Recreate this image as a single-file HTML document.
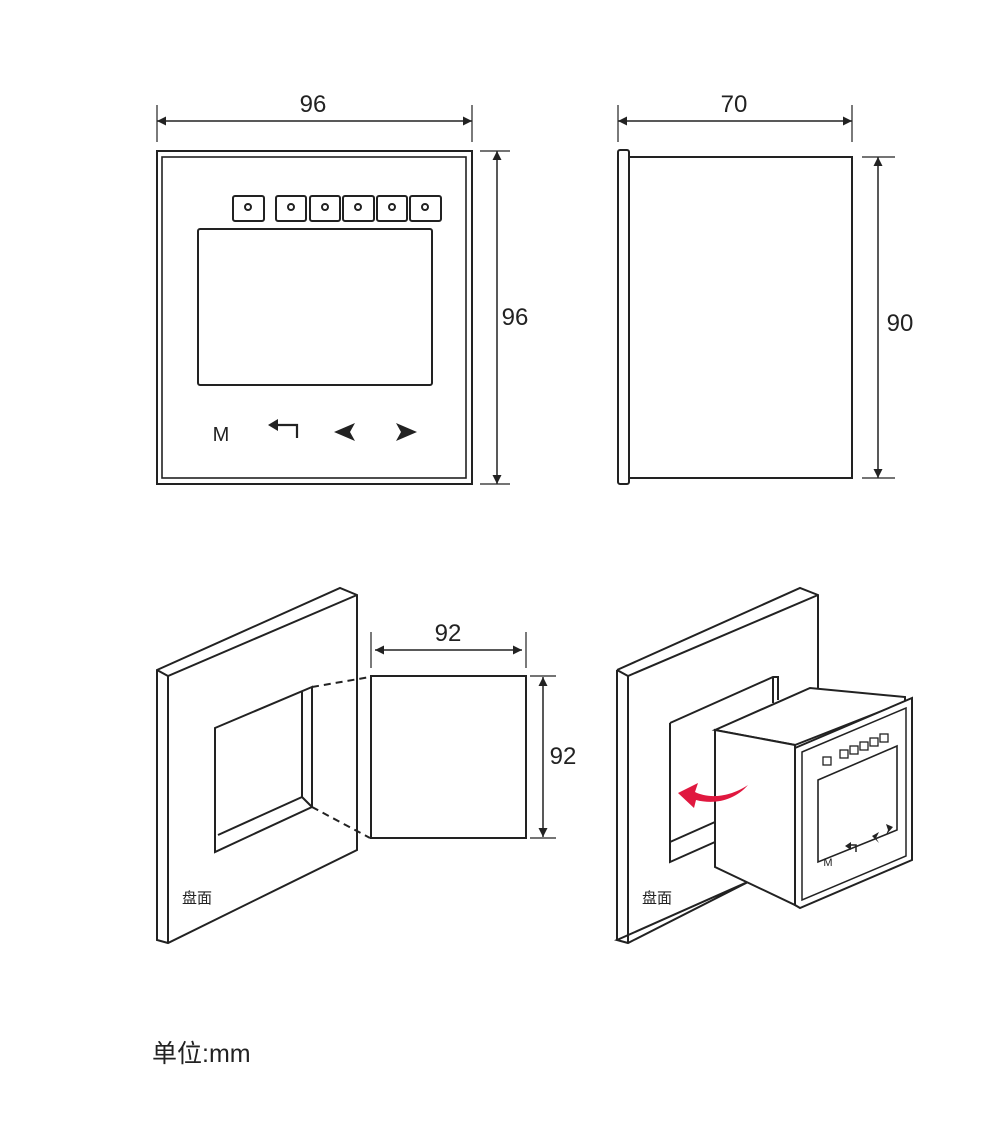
<!DOCTYPE html>
<html><head><meta charset="utf-8"><style>
html,body{margin:0;padding:0;background:#fff;}
svg{display:block;}
text{font-family:"Liberation Sans","Noto Sans CJK SC",sans-serif;fill:#222;}
</style></head><body>
<svg width="1000" height="1127" viewBox="0 0 1000 1127" xmlns="http://www.w3.org/2000/svg">
<defs>
<marker id="a" viewBox="0 0 10 10" refX="10" refY="5" markerWidth="9" markerHeight="9" orient="auto-start-reverse" markerUnits="userSpaceOnUse"><path d="M0,0 L10,5 L0,10 Z" fill="#222"/></marker>
</defs>
<g stroke="#222" stroke-width="2" fill="none">
<!-- front view -->
<rect x="157" y="151" width="315" height="333"/>
<rect x="162" y="157" width="304" height="321" stroke-width="1.6"/>
<rect x="233" y="196" width="31" height="25" rx="2"/>
<rect x="276" y="196" width="30" height="25" rx="2"/>
<rect x="310" y="196" width="30" height="25" rx="2"/>
<rect x="343" y="196" width="31" height="25" rx="2"/>
<rect x="377" y="196" width="30" height="25" rx="2"/>
<rect x="410" y="196" width="31" height="25" rx="2"/>
<circle cx="248" cy="207" r="3"/><circle cx="291" cy="207" r="3"/><circle cx="325" cy="207" r="3"/><circle cx="358" cy="207" r="3"/><circle cx="392" cy="207" r="3"/><circle cx="425" cy="207" r="3"/>
<rect x="198" y="229" width="234" height="156" rx="2"/>
<path d="M297,438 V425 H277" stroke-width="2.2"/>
<line x1="157" y1="121" x2="472" y2="121" stroke-width="1.5" marker-start="url(#a)" marker-end="url(#a)"/>
<line x1="157" y1="105" x2="157" y2="142" stroke-width="1.2"/>
<line x1="472" y1="105" x2="472" y2="142" stroke-width="1.2"/>
<line x1="497" y1="151" x2="497" y2="484" stroke-width="1.5" marker-start="url(#a)" marker-end="url(#a)"/>
<line x1="480" y1="151" x2="510" y2="151" stroke-width="1.2"/>
<line x1="480" y1="484" x2="510" y2="484" stroke-width="1.2"/>
<!-- side view -->
<rect x="618" y="150" width="11" height="334" rx="2"/>
<rect x="629" y="157" width="223" height="321"/>
<line x1="618" y1="121" x2="852" y2="121" stroke-width="1.5" marker-start="url(#a)" marker-end="url(#a)"/>
<line x1="618" y1="105" x2="618" y2="142" stroke-width="1.2"/>
<line x1="852" y1="105" x2="852" y2="142" stroke-width="1.2"/>
<line x1="878" y1="157" x2="878" y2="478" stroke-width="1.5" marker-start="url(#a)" marker-end="url(#a)"/>
<line x1="862" y1="157" x2="895" y2="157" stroke-width="1.2"/>
<line x1="862" y1="478" x2="895" y2="478" stroke-width="1.2"/>
<!-- bottom left panel -->
<path d="M157,670 L340,588 L357,595 L357,850 L168,943 L157,940 Z"/>
<path d="M157,670 L168,676 L357,595 M168,676 L168,943"/>
<path d="M215,728 L312,687 L312,807 L215,852 Z"/>
<path d="M218,835 L302,797 L302,692 M302,797 L312,807"/>
<line x1="312" y1="687" x2="370" y2="677" stroke-dasharray="7,5"/>
<line x1="312" y1="807" x2="370" y2="838" stroke-dasharray="7,5"/>
<rect x="371" y="676" width="155" height="162"/>
<line x1="375" y1="650" x2="522" y2="650" stroke-width="1.5" marker-start="url(#a)" marker-end="url(#a)"/>
<line x1="371" y1="632" x2="371" y2="668" stroke-width="1.2"/>
<line x1="526" y1="632" x2="526" y2="668" stroke-width="1.2"/>
<line x1="543" y1="677" x2="543" y2="837" stroke-width="1.5" marker-start="url(#a)" marker-end="url(#a)"/>
<line x1="530" y1="676" x2="556" y2="676" stroke-width="1.2"/>
<line x1="530" y1="838" x2="556" y2="838" stroke-width="1.2"/>
<!-- bottom right panel -->
<path d="M617,670 L800,588 L818,595 L818,700 M752,880 L628,943 L617,940 Z" fill="#fff"/>
<path d="M617,670 L628,676 L818,595 M628,676 L628,943 M617,670 L617,940"/>
<path d="M670,723 L773,677 L778,677 L778,700 M773,677 L773,703 M670,723 L670,862 L715,842 M670,842 L715,822"/>
<path d="M715,730 L810,688 L905,697 L905,702 L795,745 L715,730 Z" fill="#fff"/>
<path d="M715,730 L795,745 L795,905 L715,867 Z" fill="#fff"/>
<path d="M795,748 L912,698 L912,860 L800,908 L795,905 Z" fill="#fff"/>
<path d="M802,752 L906,708 L906,856 L802,900 Z" stroke-width="1.5"/>
<path d="M818,780 L897,746 L897,830 L818,862 Z" stroke-width="1.6"/>
<g stroke-width="1.3">
<rect x="823" y="757" width="8" height="8"/><rect x="840" y="750" width="8" height="8"/><rect x="850" y="746" width="8" height="8"/><rect x="860" y="742" width="8" height="8"/><rect x="870" y="738" width="8" height="8"/><rect x="880" y="734" width="8" height="8"/>
</g>
<path d="M856,852 V845 H849" stroke-width="1.5"/>
</g>
<path d="M748,785 C725,800 705,797 695,792 L698,783 L678,793 L694,808 L696,800 C715,805 735,800 748,785 Z" fill="#e0183f"/>
<polygon points="334,432 355,423 350,432 355,441" fill="#222"/>
<polygon points="417,432 396,423 401,432 396,441" fill="#222"/>
<polygon points="268,425 278,419 278,431" fill="#222"/>
<polygon points="872,836 879,832 876,838 879,843" fill="#222"/>
<polygon points="893,827 886,824 888,830 886,835" fill="#222"/>
<polygon points="845,846 851,842 851,850" fill="#222"/>
<text x="221" y="441" font-size="20" text-anchor="middle" fill="#333">M</text>
<text x="828" y="866" font-size="11" text-anchor="middle">M</text>
<text x="313" y="112" font-size="24" text-anchor="middle">96</text>
<text x="515" y="325" font-size="24" text-anchor="middle">96</text>
<text x="734" y="112" font-size="24" text-anchor="middle">70</text>
<text x="900" y="331" font-size="24" text-anchor="middle">90</text>
<text x="448" y="641" font-size="24" text-anchor="middle">92</text>
<text x="563" y="764" font-size="24" text-anchor="middle">92</text>
<text x="182" y="903" font-size="15" fill="#555">盘面</text>
<text x="642" y="903" font-size="15" fill="#555">盘面</text>
<text x="152" y="1062" font-size="25" fill="#333">单位:mm</text>
</svg>
</body></html>
